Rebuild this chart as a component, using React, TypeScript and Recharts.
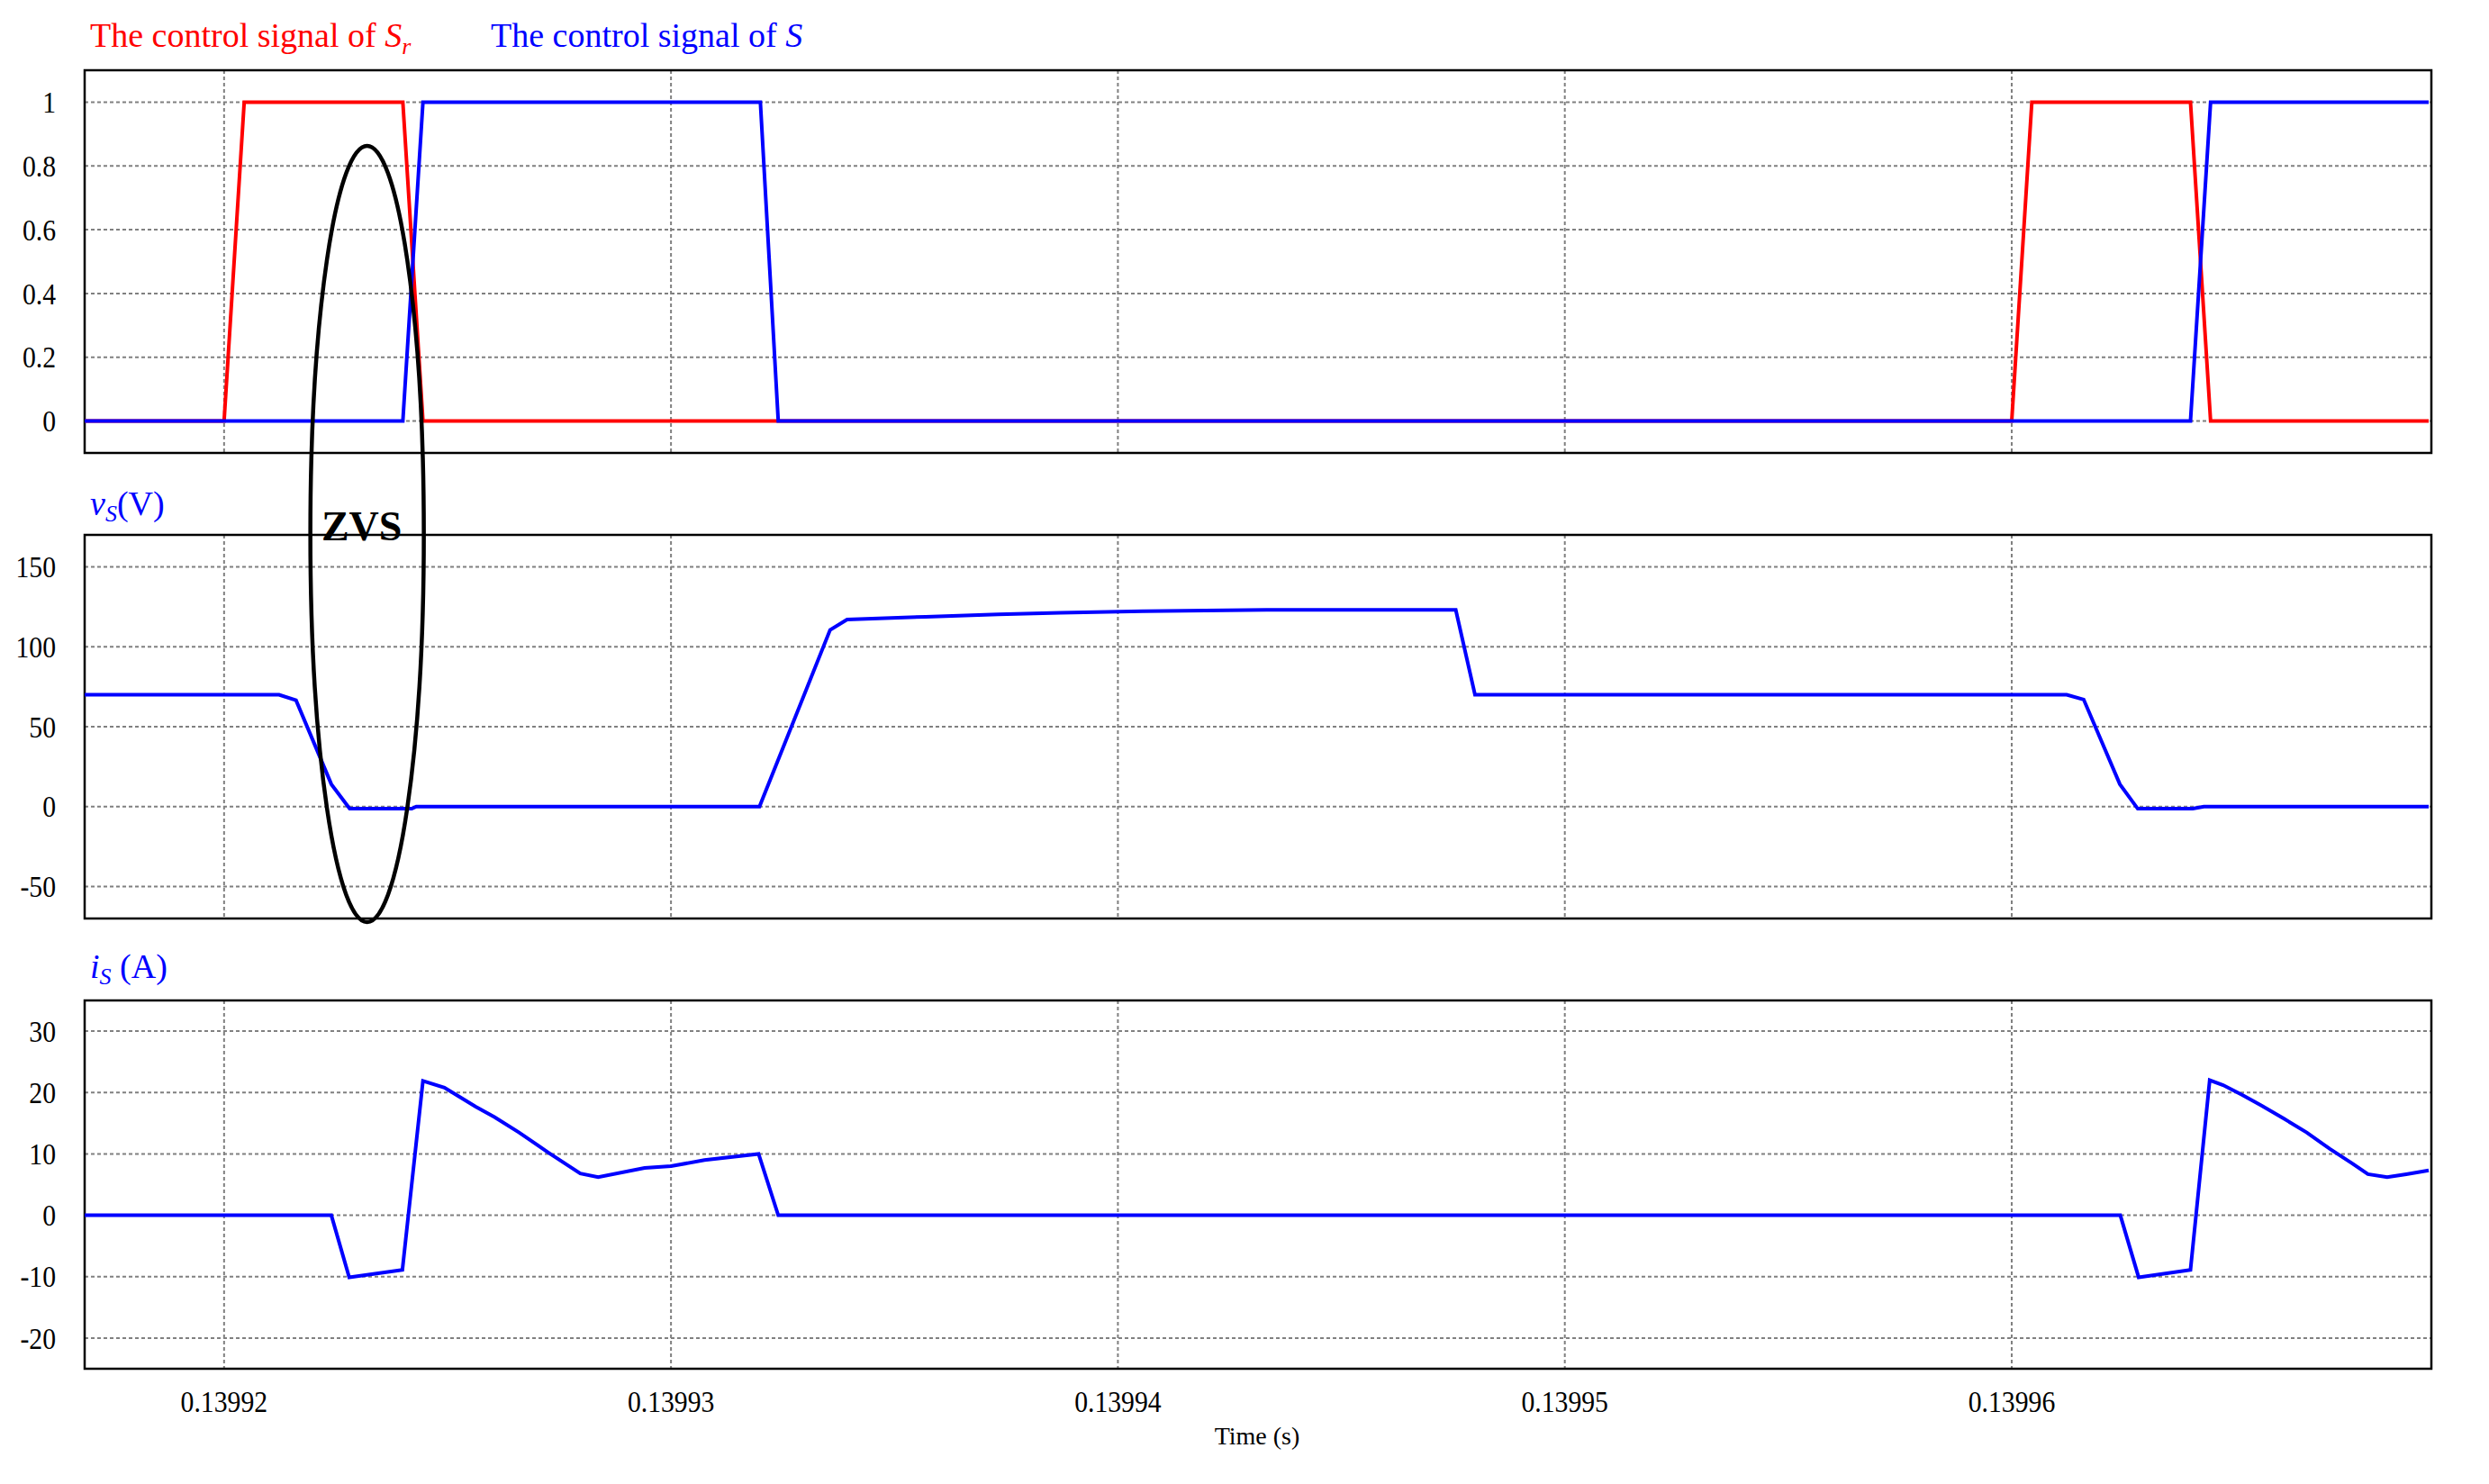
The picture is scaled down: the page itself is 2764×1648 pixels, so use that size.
import { LineChart, Line, XAxis, YAxis, CartesianGrid, ReferenceArea } from 'recharts'

// ============================================
// Data (time in microseconds, 139920 = 0.13992 s)
// ============================================

const timeTicks = [139920, 139930, 139940, 139950, 139960]
const X_MIN = 139916.88
const X_MAX = 139969.39

// control signal of Sr
const srTime = [139916.88, 139920.0, 139920.45, 139924.0, 139924.45, 139960.0, 139960.45, 139964.0, 139964.45, 139969.33]
const srValue = [0, 0, 1, 1, 0, 0, 1, 1, 0, 0]

// control signal of S
const sTime = [139916.88, 139924.0, 139924.45, 139932.0, 139932.4, 139964.0, 139964.45, 139969.33]
const sValue = [0, 0, 1, 1, 0, 0, 1, 1]

// vS (V)
const vsTime = [
  139916.88, 139921.23, 139921.61, 139922.4, 139922.81, 139924.2, 139924.3, 139931.98,
  139933.56, 139933.94, 139935.7, 139937.32, 139938.71, 139940.56, 139943.33, 139947.56,
  139947.99, 139961.23, 139961.61, 139962.42, 139962.82, 139964.05, 139964.3, 139969.33,
]
const vsValue = [
  70, 70, 66.5, 14, -1.3, -1.3, 0, 0,
  110.5, 117, 118.8, 120.3, 121.2, 122.2, 123.1, 123.1,
  70, 70, 67, 14, -1.3, -1.3, 0, 0,
]

// iS (A)
const isTime = [
  139916.88, 139922.4, 139922.8, 139923.99, 139924.45, 139924.93, 139925.63, 139926.05,
  139926.6, 139927.26, 139927.97, 139928.37, 139929.41, 139930.0, 139930.75, 139931.96,
  139932.4, 139962.43, 139962.84, 139964.0, 139964.43, 139964.73, 139965.16, 139965.58,
  139966.1, 139966.6, 139967.12, 139967.63, 139967.97, 139968.4, 139968.83, 139969.33,
]
const isValue = [
  0, 0, -10.1, -8.9, 21.9, 20.8, 17.7, 16.0,
  13.5, 10.2, 6.8, 6.2, 7.7, 8.0, 9.0, 10.0,
  0, 0, -10.1, -8.9, 22.0, 21.2, 19.6, 17.9,
  15.7, 13.5, 10.8, 8.4, 6.7, 6.2, 6.7, 7.3,
]

const ctrlTicks = [0, 0.2, 0.4, 0.6, 0.8, 1]
const vsTicks = [-50, 0, 50, 100, 150]
const isTicks = [-20, -10, 0, 10, 20, 30]

const zip = (t: number[], v: number[]) => t.map((x, i) => ({ t: x, v: v[i] }))

// ============================================
// Layout
// ============================================

const W = 2764
const H = 1648
const PLOT_LEFT = 94
const PLOT_RIGHT = 2700
const FONT = '"Liberation Serif", "Times New Roman", serif'
const RED = '#ff0000'
const BLUE = '#0000ff'

const timeToPx = (t: number) =>
  PLOT_LEFT + ((t - X_MIN) / (X_MAX - X_MIN)) * (PLOT_RIGHT - PLOT_LEFT)

const formatTime = (v: number) => (v / 1e6).toFixed(5)

// narrow serif tick text, like the original plot export
function SerifTick(props: any) {
  const { x, y, payload, anchor, dy, format } = props
  const label = format ? format(payload.value) : String(payload.value)
  return (
    <g transform={`translate(${x},${y}) scale(0.9,1)`}>
      <text
        textAnchor={anchor}
        dy={dy}
        fontSize={33}
        fill="#000"
        style={{ fontFamily: FONT }}
      >
        {label}
      </text>
    </g>
  )
}

interface Series {
  data: { t: number; v: number }[]
  color: string
}

interface PanelProps {
  top: number
  height: number
  margin: { top: number; bottom: number }
  yDomain: [number, number]
  yTicks: number[]
  series: Series[]
  showX?: boolean
}

function Panel({ top, height, margin, yDomain, yTicks, series, showX = false }: PanelProps) {
  return (
    <div style={{ position: 'absolute', left: 0, top, width: W, height }}>
      <LineChart
        width={W}
        height={height}
        margin={{ top: margin.top, right: W - PLOT_RIGHT, bottom: margin.bottom, left: 0 }}
      >
        <CartesianGrid stroke="#808080" strokeWidth={2} strokeDasharray="4 3" />
        <XAxis
          dataKey="t"
          type="number"
          domain={[X_MIN, X_MAX]}
          ticks={timeTicks}
          allowDataOverflow
          hide={!showX}
          height={80}
          axisLine={false}
          tickLine={false}
          tickSize={0}
          tickMargin={25}
          tick={(p: any) => <SerifTick {...p} anchor="middle" dy="0.71em" format={formatTime} />}
        />
        <YAxis
          type="number"
          domain={yDomain}
          ticks={yTicks}
          allowDataOverflow
          width={PLOT_LEFT}
          axisLine={false}
          tickLine={false}
          tickSize={0}
          tickMargin={32}
          tick={(p: any) => <SerifTick {...p} anchor="end" dy="0.355em" />}
        />
        <ReferenceArea
          x1={X_MIN}
          x2={X_MAX}
          y1={yDomain[0]}
          y2={yDomain[1]}
          fill="none"
          fillOpacity={0}
          stroke="#000"
          strokeWidth={2.5}
          ifOverflow="visible"
        />
        {series.map((s, i) => (
          <Line
            key={i}
            data={s.data}
            dataKey="v"
            type="linear"
            stroke={s.color}
            strokeWidth={4}
            dot={false}
            activeDot={false}
            isAnimationActive={false}
          />
        ))}
      </LineChart>
    </div>
  )
}

// ============================================
// Annotations
// ============================================

function Overlay() {
  const zvsX = timeToPx(139923.2)
  return (
    <svg
      width={W}
      height={H}
      style={{ position: 'absolute', left: 0, top: 0, pointerEvents: 'none', fontFamily: FONT }}
    >
      <text x={100} y={52} fontSize={38} fill={RED}>
        The control signal of <tspan fontStyle="italic">S</tspan>
        <tspan fontStyle="italic" fontSize={26} dy={8}>r</tspan>
      </text>
      <text x={545} y={52} fontSize={38} fill={BLUE}>
        The control signal of <tspan fontStyle="italic">S</tspan>
      </text>

      <text x={100} y={572} fontSize={38} fill={BLUE}>
        <tspan fontStyle="italic">v</tspan>
        <tspan fontStyle="italic" fontSize={26} dy={7}>S</tspan>
        <tspan dy={-7}>(V)</tspan>
      </text>
      <text x={100} y={1086} fontSize={38} fill={BLUE}>
        <tspan fontStyle="italic">i</tspan>
        <tspan fontStyle="italic" fontSize={26} dy={7}>S</tspan>
        <tspan dy={-7}> (A)</tspan>
      </text>

      <ellipse cx={zvsX} cy={593} rx={63} ry={431} fill="none" stroke="#000" strokeWidth={4.5} />
      <text x={zvsX - 6} y={600} fontSize={46} fontWeight="bold" textAnchor="middle" fill="#000">
        ZVS
      </text>

      <text x={1396} y={1604} fontSize={28} textAnchor="middle" fill="#000">
        Time (s)
      </text>
    </svg>
  )
}

export default function App() {
  return (
    <div style={{ position: 'absolute', left: 0, top: 0, width: W, height: H, background: '#fff' }}>
      <Panel
        top={0}
        height={560}
        margin={{ top: 78, bottom: 57 }}
        yDomain={[-0.1, 1.1]}
        yTicks={ctrlTicks}
        series={[
          { data: zip(srTime, srValue), color: RED },
          { data: zip(sTime, sValue), color: BLUE },
        ]}
      />
      <Panel
        top={560}
        height={500}
        margin={{ top: 34, bottom: 40 }}
        yDomain={[-70, 170]}
        yTicks={vsTicks}
        series={[{ data: zip(vsTime, vsValue), color: BLUE }]}
      />
      <Panel
        top={1060}
        height={588}
        margin={{ top: 51, bottom: 48 }}
        yDomain={[-25, 35]}
        yTicks={isTicks}
        series={[{ data: zip(isTime, isValue), color: BLUE }]}
        showX
      />
      <Overlay />
    </div>
  )
}
